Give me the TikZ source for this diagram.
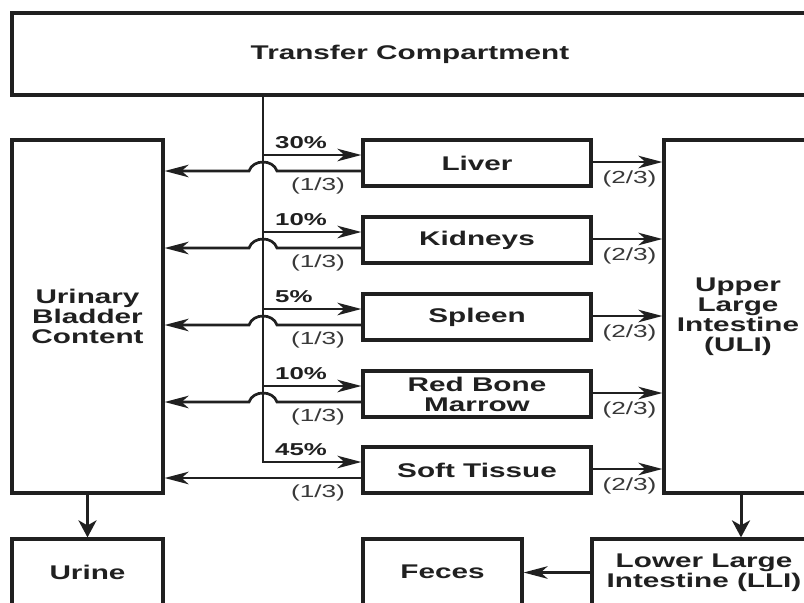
\documentclass[tikz,border=0pt]{standalone}
\usepackage{fontspec}
\setmainfont{Liberation Sans}[FakeStretch=1.5]
\usetikzlibrary{arrows.meta,calc}
\definecolor{ink}{HTML}{202020}
\definecolor{labelgray}{HTML}{383838}

\begin{document}
\begin{tikzpicture}[x=1pt,y=-1pt,
  box/.style={draw=ink, line width=3.2pt, inner sep=0pt, align=center, text=ink,
    font=\fontsize{19.8}{20}\selectfont\bfseries},
  hflow/.style={draw=ink, line width=2.7pt,
    -{Stealth[length=24pt,width=12.5pt,inset=7pt]}},
  vflow/.style={draw=ink, line width=3pt,
    -{Stealth[length=17pt,width=18pt,inset=5pt]}},
  pct/.style={font=\fontsize{17.2}{18}\selectfont\bfseries, text=ink, inner sep=0pt},
  frac/.style={font=\fontsize{17.5}{18}\selectfont, text=labelgray, inner sep=0pt},
]
\useasboundingbox (0,0) rectangle (804,603);
\clip (0,0) rectangle (804,603);
\fill[white] (0,0) rectangle (804,603);

% compartments
\node[box, minimum width=796, minimum height=82] (transfer) at (410,54) {Transfer Compartment};
\node[box, minimum width=151, minimum height=353] (bladder) at (87.5,316.5) {Urinary\\Bladder\\Content};
\node[box, minimum width=148, minimum height=353] (uli) at (738,316.5) {Upper\\Large\\Intestine\\(ULI)};

\node[box, minimum width=228, minimum height=46] (liver)   at (477,163) {Liver};
\node[box, minimum width=228, minimum height=46] (kidneys) at (477,240) {Kidneys};
\node[box, minimum width=228, minimum height=46] (spleen)  at (477,317) {Spleen};
\node[box, minimum width=228, minimum height=46] (marrow)  at (477,394) {Red Bone\\Marrow};
\node[box, minimum width=228, minimum height=46] (soft)    at (477,470) {Soft Tissue};

\node[box, minimum width=151, minimum height=66] (urine) at (87.5,572) {Urine};
\node[box, minimum width=159, minimum height=66] (feces) at (442.5,572) {Feces};
\node[box, minimum width=224, minimum height=67] (lli)   at (704,572.5) {Lower Large\\Intestine (LLI)};

% distribution trunk from the transfer compartment
\coordinate (spine) at (263,0);
\foreach \n in {liver,kidneys,spleen,marrow,soft}{
  \coordinate (\n-in)  at ($(\n.west)+(0,-8)$);
  \coordinate (\n-ret) at ($(\n.west)+(0,8)$);
  \coordinate (\n-out) at ($(\n.east)+(0,-1)$);
}
\draw[hflow] (spine |- transfer.south) |- (soft-in);
\node[pct, anchor=base west] (soft-pc) at ($(spine |- soft-in)+(12,-7)$) {45\%};

% organ uptake, urinary return with crossing hops, and transfer to ULI
\foreach \n/\pc in {liver/30\%, kidneys/10\%, spleen/5\%, marrow/10\%}{
  \draw[hflow] (spine |- \n-in) -- (\n-in);
  \node[pct, anchor=base west] (\n-pc) at ($(spine |- \n-in)+(12,-7)$) {\pc};
  \draw[hflow] (\n-ret) -- ($(spine |- \n-ret)+(14,0)$)
    .. controls +(-4,-12) and +(4,-12) .. ($(spine |- \n-ret)+(-14,0)$)
    -- (bladder.east |- \n-ret);
}
\draw[hflow] (soft-ret) -- (bladder.east |- soft-ret);

\foreach \n in {liver,kidneys,spleen,marrow,soft}{
  \node[frac] (\n-urfrac) at ($(spine |- \n-ret)+(55,15)$) {(1/3)};
  \draw[hflow] (\n-out) -- (uli.west |- \n-out);
  \node[frac] (\n-gifrac) at ($(\n.east)!0.5!(uli.west |- \n.east)+(2,16)$) {(2/3)};
}

% excretion
\draw[vflow] (bladder.south) -- (urine.north);
\coordinate (colon) at (741,0);
\draw[vflow] (colon |- uli.south) -- (colon |- lli.north);
\draw[hflow] (lli.west) -- (feces.east |- lli.west);
\end{tikzpicture}
\end{document}
